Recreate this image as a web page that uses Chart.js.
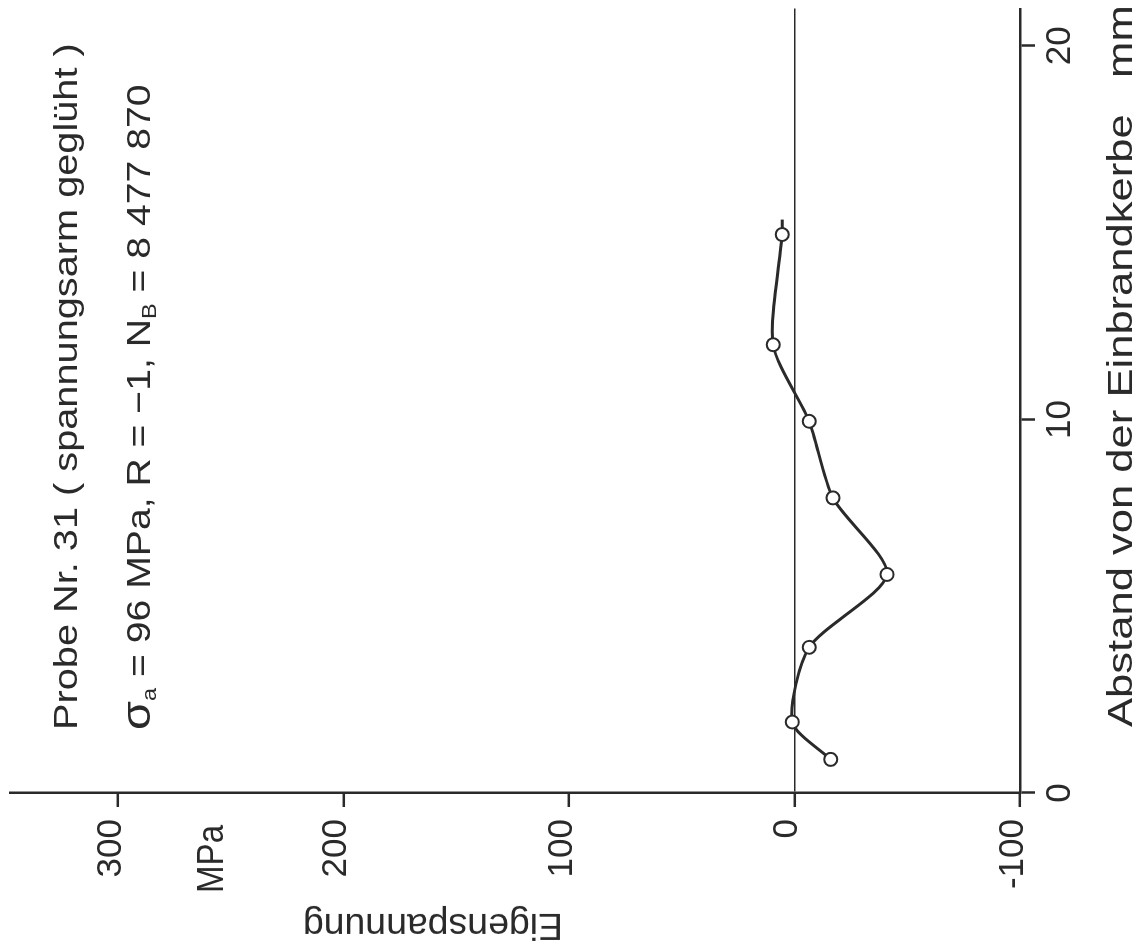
<!DOCTYPE html>
<html>
<head>
<meta charset="utf-8">
<script src="https://cdn.jsdelivr.net/npm/chart.js@4.4.1/dist/chart.umd.min.js"></script>
<style>
  html, body { margin:0; padding:0; width:1144px; height:950px; overflow:hidden; background:#fff; }
  #wrap { position:absolute; left:0; top:0; width:950px; height:1144px;
          transform-origin:0 0; transform: translate(0px, 950px) rotate(-90deg); }
  #c { position:absolute; left:0; top:0; }
  .t { position:absolute; white-space:pre; line-height:1; color:#2a2a2a;
       font-family:"Liberation Sans", Arial, sans-serif; transform-origin:0 0; }
  .t sub { font-size:0.6em; vertical-align:baseline; position:relative; top:0.3em; }
  .sig { font-size:1.2em; }
</style>
</head>
<body>
<div id="wrap">
  <canvas id="c" width="950" height="1144"></canvas>
  <div class="t" id="t1" style="left:220px; top:48px; font-size:34px;">Probe Nr. 31 ( spannungsarm geglüht )</div>
  <div class="t" id="t2" style="left:220px; top:116px; font-size:34px;"><span class="sig">σ</span><sub>a</sub> = 96 MPa, R = −1, N<sub>B</sub> = 8 477 870</div>
  <div class="t" id="t3" style="left:57px; top:192px; font-size:37px;">MPa</div>
  <div class="t" id="t4" style="left:223px; top:1102px; font-size:35px;">Abstand von der Einbrandkerbe   mm</div>
  <div class="t" id="t5" style="left:5px; top:563px; font-size:37px;">Eigenspannung</div>
</div>
<script>
// ---- data ----
const distanceMm   = [0.9, 1.9, 3.9, 5.85, 7.9, 9.95, 12.0, 14.95];   // Abstand von der Einbrandkerbe (mm)
const residualMPa  = [-16, 1, -6.5, -41, -17, -6.5, 9.5, 5.5];       // Eigenspannung (MPa)
const lineEndMm    = [15.35];                                         // end of drawn curve beyond last point
const lineEndMPa   = [5.5];
const mmTicks      = [0, 10, 20];
const stressTicks  = [-100, 0, 100, 200, 300];

const ink = '#2a2a2a';
const font = {family:'"Liberation Sans", Arial, sans-serif', size:35};

const measured = distanceMm.map((x, i) => ({x, y: residualMPa[i]}));
const curve = measured.concat(lineEndMm.map((x, i) => ({x, y: lineEndMPa[i]})));

new Chart(document.getElementById('c'), {
  type: 'scatter',
  data: {
    datasets: [
      { data: measured, showLine:false, pointRadius:6.5, pointBorderWidth:2,
        pointBackgroundColor:'#fff', pointBorderColor:ink, order:0 },
      { data: curve, showLine:true, tension:0.25, borderColor:ink, borderWidth:3,
        pointRadius:0, order:1 }
    ]
  },
  options: {
    responsive:false, animation:false, devicePixelRatio:1,
    layout:{ padding:{ top:10, right:5.5, left:0, bottom:0 } },
    plugins:{ legend:{display:false}, tooltip:{enabled:false} },
    scales:{
      x:{
        type:'linear', position:'bottom', min:0, max:21,
        afterBuildTicks: s => { s.ticks = mmTicks.map(v => ({value:v})); },
        afterFit: s => { s.height = 124; s.paddingLeft = 0; s.paddingRight = 0; },
        grid:{ drawOnChartArea:false, color:ink, tickLength:15, tickWidth:2.5 },
        border:{ color:ink, width:2.5 },
        ticks:{ font, color:ink, padding:4, maxRotation:0, autoSkip:false }
      },
      y:{
        type:'linear', position:'left', min:-100, max:348,
        afterBuildTicks: s => { s.ticks = stressTicks.map(v => ({value:v})); },
        afterFit: s => { s.width = 157; s.paddingTop = 0; s.paddingBottom = 0; },
        grid:{ color: c => (c.tick && c.tick.value === 0) ? ink : 'rgba(0,0,0,0)',
               lineWidth:1.6, tickColor:ink, tickWidth:2.5, tickLength:14 },
        border:{ color:ink, width:2.5 },
        ticks:{ font, color:ink, padding:12, labelOffset:-7, autoSkip:false }
      }
    }
  }
});

// fit text widths to the measured widths in the picture
function fit(id, w, extra) {
  const el = document.getElementById(id);
  const s = w / el.offsetWidth;
  el.style.transform = (extra || '') + ' scaleX(' + s + ')';
}
fit('t1', 687);
fit('t2', 645);
fit('t3', 68);
fit('t4', 722);
fit('t5', 260, 'rotate(-90deg)');
</script>
</body>
</html>
